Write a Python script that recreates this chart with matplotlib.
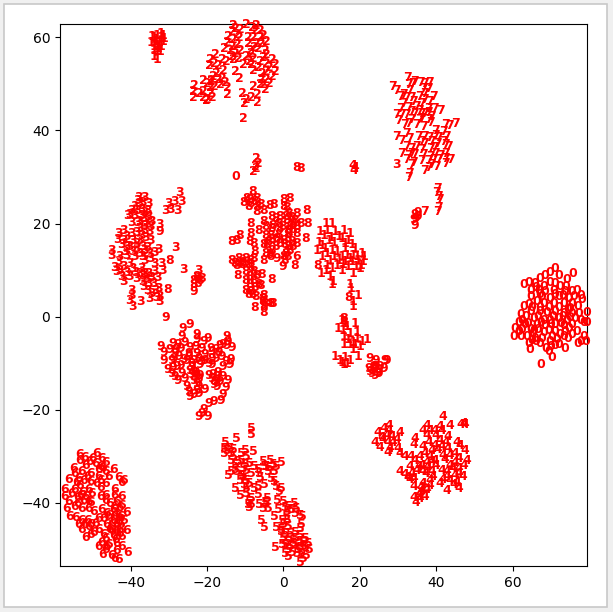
import matplotlib
matplotlib.use("Agg")
import matplotlib.pyplot as plt
from matplotlib.patches import Rectangle

# t-SNE positions, one list per digit label
digit_0 = [(71.1,10.4),(75.7,9.3),(72,8.9),(69.8,9.4),(68.5,8.9),(74.2,8),(67.2,8.2),(63,6.8),(64.1,7.3),(65.9,7.1),(69.8,7.3),(72.4,6.4),(76.8,5.7),(64.6,5.7),(66.7,5.7),(68.5,5.3),(70.7,5.7),(73.7,5.3),(75.5,5.3),(64.6,4.4),(67.6,4.3),(69.8,3.9),(72,4.3),(74.6,3.9),(77.7,4.6),(78.1,3.7),(66.3,3.2),(68,2.8),(70.7,2.8),(73.3,2.8),(75.5,2.8),(62.8,2.1),(64.1,2.5),(75,1.8),(64.6,1),(67.2,1),(68.9,0.8),(71.1,1),(73.3,0.7),(75.5,0.7),(77.2,0.7),(79.4,0.9),(62.1,0.5),(62.4,-0.9),(65.4,-0.4),(68,-0.8),(69.8,-0.8),(72,-0.4),(74.2,-0.8),(76.3,-0.4),(61.5,-1.3),(79.4,-1.3),(78.5,-1.3),(63.2,-1.8),(66.3,-1.8),(68.5,-2),(71.1,-1.8),(73.3,-2),(75.5,-1.8),(60.6,-2.5),(62.4,-2.9),(64.6,-2.9),(66.5,-2.8),(69.4,-3),(71.1,-3.3),(73.7,-3.3),(76.8,-3.3),(60.2,-4.2),(62.1,-4.3),(63.7,-4.3),(65.9,-4.7),(67.6,-4.7),(73.3,-4.3),(75.5,-3.8),(64.1,-5.8),(66.1,-5.4),(69.8,-5.4),(71.5,-5),(77.7,-5.4),(78.5,-4.3),(79.2,-5.4),(77,-5.8),(72,-6.1),(73.7,-6.9),(64.4,-7.1),(68.7,-6.9),(69.5,-7.6),(70.2,-8.9),(67.4,-10.4),(-12.4,30),
    (66,6.3),(68,6.5),(71,7.2),(74,6.5),(67,4.8),(71,4.7),(73,4.6),(76,4.2),(65,2),(67,2),(69.5,1.9),(72,2),(74.5,1.6),(77,2.2),(63.5,0),(66.5,0),(70.5,0),(73,-0.1),(75,-0.2),(77.8,-0.8),(64,-1.4),(67.3,-1.3),(70,-1.8),(72.5,-1.5),(74.8,-2.6),(61.5,-3.2),(65.2,-3.6),(68,-3.5),(70.3,-4.2),(72.4,-3.8),(74.5,-4.8),(65,-5.2),(67,-5.8),(71,-6.2),(70,-6.5),(65.5,-3)]
digit_1 = [(-34.5,60.3),(-33.8,60),(-33,60.4),(-32.2,60),(-31.5,60.4),(-34.6,59),(-33.6,59.2),(-32.6,59),(-31.6,59.2),(-34,58),(-33,58.2),(-32,58),(-34,57.2),(-33.2,57),(-32.4,57),(-33.8,56),(-33.2,55.2),(11.2,20),(12.6,20),(9.6,18.2),(11.3,18.6),(13.5,18.2),(15.7,18.6),(17.4,17.9),(9.2,16),(11.8,16.4),(13.1,16),(15.3,16.8),(17,16.4),(8.7,14.3),(10.9,14.6),(12.6,14.3),(14,13.9),(16.1,14.6),(18.8,14.6),(10,12.9),(12.2,12.1),(14.4,12.1),(16.6,13.2),(18.3,13.2),(20.5,13.6),(16.1,11.8),(17.9,11.8),(19.6,12.1),(20.9,11.8),(11.3,11),(12.6,10.3),(15.3,10),(18.3,9.3),(20.1,10.3),(9.9,9.3),(12.2,8.6),(12.8,6.8),(17.5,6.8),(19.6,4.6),(18.1,2.2),(13,7.5),(17.6,6),(18.1,3.2),(15.2,-0.8),(18.7,-1.5),(14.3,-2.5),(16.5,-2.2),(17.4,-3.6),(15.7,-4.3),(19.1,-4.7),(21.8,-5),(20.5,-5.4),(15.7,-6.1),(17.4,-6.1),(20,-6.5),(18.3,-7.2),(19.6,-8.6),(13.5,-8.6),(14.8,-9.4),(17.4,-9.4),(15.7,-10.4),(16.7,-10.1),
    (10.5,17.5),(12.5,17),(14.5,17.2),(16.2,15.6),(18,15.5),(10,15.2),(11.5,13.5),(13.3,13),(15.2,13),(17.3,12.5),(19.2,12.9),(21,12.8),(15.5,11.2),(17,10.7),(19,10.8),(20.3,11),(14,11),(11,9.8),(-33.4,59.6),(-32.9,57.6),(-32,60.9),(-31.2,59.8),(16,-1.5),(15.5,-3),(17,-5),(18.7,-6),(16,-8.9),(15.2,-9.8),(19.3,-3.5),(18.2,-5.5)]
digit_2 = [(-13.1,62.5),(-9.6,62.7),(-7,62.5),(-11.3,61.8),(-13.5,61.3),(-7.4,61.6),(-5.2,60.4),(-14.4,60.2),(-12.2,60.6),(-9.2,59.9),(-14.8,58.9),(-4.4,59.1),(-9.2,58.8),(-7,58.8),(-5.7,58.8),(-12.2,58.4),(-15.5,57.7),(-14,57.3),(-8.7,57.3),(-6.5,57.7),(-4.8,57.3),(-17.9,56.3),(-12.7,56.6),(-4.4,56.3),(-19.2,55.2),(-16.1,55.2),(-13.1,55.2),(-9.6,55.9),(-7.9,55.5),(-6.1,54.8),(-3,55.2),(-19.4,53.9),(-17,53.9),(-10.5,54.1),(-8.3,54.1),(-4.4,54.5),(-2.2,54.1),(-15.7,52.9),(-12.7,52.7),(-7.9,52.9),(-2.2,52.7),(-16.1,51.2),(-11.5,51.1),(-4.4,52.7),(-3,51.6),(-18.3,51.6),(-21,50.7),(-18.8,50.5),(-17,50.9),(-5.7,50.9),(-4.4,50.9),(-15.3,50.3),(-8,49.5),(-6.1,49.8),(-23.4,49.6),(-19.2,49.3),(-14.7,49.3),(-23.6,48.4),(-20.9,48.4),(-4.8,48.9),(-23.6,47.2),(-20.9,47.2),(-19.2,48),(-14.8,47.7),(-10.7,48),(-8.3,47),(-6.8,47.7),(-19.9,46.7),(-9.6,46.6),(-6.8,46),(-10.2,45.7),(-10.5,42.6),(-7,34),(-6.5,33),(-7.4,32.2),(-7.9,31.2),(-7,31.9),
    (-13,59.5),(-11.5,60),(-8,60),(-6,60),(-13.3,58),(-11.2,57.3),(-7.5,57.8),(-13.5,56),(-11.8,55.4),(-8.5,56.5),(-5.3,55.8),(-18,54.5),(-15,54.8),(-9,54.8),(-6.5,53.5),(-3.6,53.5),(-5.5,52.3),(-17.5,52.3),(-16.5,49.8),(-19.8,50.1),(-3.6,50.2),(-5.2,49.8),(-18,49.5),(-22,47.9),(-20.2,46.5),(-18.5,47),(-19,50.8),(-12.5,62),(-8.2,62.2),(-6,61.5)]
digit_3 = [(-38,25.6),(-36.5,25.6),(-27.1,26.6),(-37.6,24.3),(-38.9,23.6),(-35.4,24.3),(-30.2,24.3),(-28.4,24.7),(-26.7,24.7),(-39.8,22.9),(-37.2,23),(-35.7,22.9),(-31,22.9),(-29.7,23),(-27.8,22.9),(-40.9,21.8),(-38.9,21.8),(-37.2,21.8),(-35.4,21.5),(-39.8,20.2),(-37.6,20.4),(-35.9,20.4),(-34.5,20.4),(-32.5,19.7),(-37.6,19),(-36.3,18.6),(-35,18.2),(-42,18.6),(-39.8,17.9),(-43.3,17.9),(-37.2,17.5),(-43.5,16.6),(-42,16.4),(-39.4,16.4),(-37.6,16.4),(-34.7,16.3),(-42.4,15.4),(-40.2,15),(-38.5,14.6),(-36.3,14.3),(-32.8,14.4),(-28.2,14.8),(-45,14.3),(-45,13.2),(-41.5,13.9),(-39.4,13.9),(-37.6,13.6),(-35.2,13.6),(-33.7,13.7),(-41.1,13.2),(-36.3,12.1),(-43.3,11.8),(-40.2,11.4),(-33.7,11.4),(-31.9,11.4),(-44.2,10.6),(-42,10.7),(-39.4,10.3),(-37.2,10.3),(-26.3,10.2),(-31.7,10),(-43.7,9.6),(-37.6,9.3),(-35.4,9.3),(-33.7,9.6),(-42.4,8.6),(-40.2,8.6),(-38.5,8.2),(-35.9,8.2),(-42,7.5),(-34.1,7.1),(-36.7,6.4),(-32.8,6),(-39.8,5.7),(-34.6,5),(-35,3.9),(-39.8,4.6),(-32.4,4.4),(-40.2,3.4),(-37.4,3.2),(-39.4,2.2),(-32.5,3.2),(-22.3,9.8),(29.7,32.6),
    (-38.2,25),(-36.8,24.6),(-38.3,22.7),(-36.4,22.3),(-40.2,21.9),(-36.6,21),(-38.2,20.3),(-36.4,19.6),(-34.8,19.4),(-38.5,18),(-36,17),(-41,17.2),(-38.4,15.7),(-36.8,15),(-35.5,14.9),(-41,15),(-39,12.8),(-36.9,12.8),(-34.7,12.5),(-43,13),(-42.8,10),(-41,9.5),(-38.8,9.4),(-36.5,9.2),(-34.5,8.3),(-33,8.3),(-36.8,7.5),(-35.3,7),(-33.6,5.7),(-35.6,5.5),(-33.3,4),(-37,8.8)]
digit_4 = [(41.7,-21.4),(47.1,-22.9),(46.5,-23.2),(47.5,-23.2),(27.7,-23.4),(43.6,-23.4),(26.3,-24.1),(37.5,-23.4),(41,-23.6),(24.8,-25),(30.5,-25),(36.6,-24.5),(38.3,-24.5),(39.6,-24.5),(41.4,-24.6),(37.5,-25.5),(27,-25.5),(28.3,-25.9),(25.7,-26),(29.6,-26.5),(43.1,-25.9),(23.9,-27.2),(27.4,-27.2),(34.4,-26.2),(34.2,-27.5),(41,-26.6),(45.3,-27),(46.2,-27.7),(39.6,-27.7),(25.2,-28.2),(30,-28.4),(27.4,-29.3),(41.4,-28),(43.1,-28.4),(47.5,-28.8),(38.8,-28.8),(30.5,-29.5),(37,-29.5),(31.8,-30.2),(33.3,-30.2),(35.7,-30.2),(38.3,-30.2),(41.8,-29.8),(43.6,-29.8),(47.9,-30.9),(37.5,-31.3),(39.6,-30.9),(44.9,-31.3),(47.1,-32),(33.1,-32.2),(35.3,-32.3),(37.9,-32.3),(44.4,-32.7),(45.8,-32.7),(30.5,-33.4),(31.8,-33.9),(33.5,-33.8),(36.6,-33.4),(38.8,-33.4),(41.4,-33.1),(42.7,-33.4),(44.9,-34.1),(34,-34.9),(38.3,-35.2),(41.8,-35.1),(43.6,-35.2),(46.9,-34.5),(45.3,-35.6),(34,-36.5),(36.6,-35.9),(38.2,-36.3),(42.7,-37.4),(45.8,-37),(36.2,-37.4),(37,-38.8),(35.3,-38.4),(34.7,-39.9),(35.7,-39.2),(18.2,32.5),(18.7,32),(18.4,31.5),
    (26,-26.5),(27.5,-24.5),(28.5,-27),(27.8,-28.3),(36.5,-28),(38,-27),(40,-25.5),(40.3,-28.7),(42.4,-27),(42.2,-30.7),(44.8,-29.5),(46,-30.5),(34.5,-31),(36.3,-32),(38.7,-31.2),(40,-32),(33,-35),(35,-33.2),(37.2,-33.8),(43.5,-32),(46,-33.8),(42.8,-34.5),(44.5,-36.2),(41,-36),(36,-36.7),(37.5,-37.3),(35.6,-38.1),(34.2,-39),(32.5,-34.7),(39,-34.3)]
digit_5 = [(-8.4,-24),(-8.4,-25.3),(-12.3,-26.3),(-15.2,-27),(-15.6,-28.3),(-14,-28.3),(-15.4,-29.4),(-13.6,-29.4),(-10.1,-28.8),(-7.9,-29.1),(-11,-29.4),(-9.7,-30.1),(-13.6,-30.9),(-11.9,-31.2),(-8.8,-31.6),(-5.3,-31.2),(-3.4,-30.9),(-0.5,-31.4),(-12.7,-31.9),(-10.6,-32.6),(-6.6,-32.9),(-4.4,-32.3),(-1.8,-32.3),(-2.3,-33.4),(-13.6,-33.4),(-14.5,-34.1),(-11,-34.1),(-8.4,-33.7),(-6.2,-33.7),(-4,-33.4),(-9.7,-35.2),(-11.4,-35.2),(-3.1,-34.8),(-2.3,-35.5),(-6.6,-36.6),(-4.9,-36.2),(-12.7,-37),(-9.7,-37),(-7.5,-37),(-1.8,-36.6),(-0.5,-37),(-11.4,-38.4),(-9.7,-38),(-6.6,-38.2),(-1.2,-37.7),(-8.4,-39.1),(-4.2,-39.1),(-1.6,-39.6),(-9.2,-40.5),(-8.8,-39.8),(-6.4,-40.5),(-4.4,-40.2),(-5.3,-41.3),(-4,-41.3),(-0.1,-39.8),(2.8,-40.2),(1.2,-40.9),(-1.4,-41.6),(1,-42),(3,-42.3),(4.3,-42.7),(5,-42.9),(-2.3,-43),(-5.7,-43.9),(-4.9,-45.4),(1,-43.8),(-1.8,-45.3),(-0.1,-44.8),(1.2,-45.2),(4.3,-45.6),(-0.5,-46.3),(1.7,-46.6),(4.3,-47),(-0.1,-47.7),(3,-47.7),(5.6,-47.7),(1.2,-48.4),(4.3,-48.4),(6.5,-48.8),(-2,-49.7),(0.4,-49.1),(3,-49.1),(5.2,-49.5),(6.9,-50.2),(1.2,-50.2),(3.9,-50.2),(1.2,-51.6),(6,-51.3),(5.2,-52),(4.5,-52.9),(0.4,-50.9),
    (-14.8,-28.9),(-13.2,-28.5),(-13,-30.2),(-11,-31),(-10,-31.8),(-12.7,-33),(-9.8,-33.1),(-5,-32.3),(-2.7,-31.8),(-3.8,-32.5),(-7.5,-32.2),(-6,-34.6),(-10.4,-34.2),(-12,-33.4),(-8.9,-35.9),(-10.3,-36.2),(-8.5,-40.4),(-4.8,-39.9),(-9,-41),(0.5,-41),(2,-41.5),(3.5,-41.2),(-0.6,-45.9),(1.5,-47.7),(0.5,-46.6),(3,-46.4),(2.7,-48.9),(5.1,-48.6),(5.8,-49.6),(1.8,-49.4),(4.4,-49.7),(3.6,-51),(-0.2,-49),(0.8,-43.1),(-0.2,-43.9),(4.8,-50.9),(4.8,-44.7),(2.2,-50.7)]
digit_6 = [(-53.4,-29.6),(-48.9,-29.4),(-52.1,-30.3),(-47.6,-30.5),(-53.4,-30.9),(-50.8,-31.2),(-49.3,-31.6),(-46.7,-31.4),(-51.9,-32.1),(-48,-32.3),(-55,-32.6),(-44.5,-32.9),(-52.8,-33.4),(-50.6,-33.7),(-46.7,-33.4),(-54.6,-33.7),(-56.3,-35),(-53.7,-34.8),(-48.4,-34.4),(-45.8,-34.4),(-43.2,-34.6),(-41.9,-35.2),(-54.1,-35.7),(-52.4,-35.3),(-50.6,-35.5),(-48.9,-35.9),(-46.7,-35.9),(-42.3,-35.7),(-48,-36.7),(-57.2,-37.3),(-54.6,-37.2),(-51.1,-37.3),(-44.1,-37.3),(-57.2,-38.7),(-55.4,-38),(-53.2,-38.4),(-50.2,-38),(-48,-38.7),(-44.1,-38.4),(-42.3,-38.7),(-56.3,-39.8),(-52.4,-39.5),(-51.1,-39.8),(-46.7,-39.6),(-45.4,-40.2),(-43.6,-39.8),(-42.3,-40.7),(-56.7,-41.2),(-54.8,-40.9),(-52.8,-41.2),(-51.1,-41.2),(-49.8,-42),(-47.6,-41.6),(-44.5,-41.6),(-41,-42.2),(-55.9,-42.9),(-46.3,-42.3),(-43.2,-42.7),(-54.3,-43.2),(-52.8,-43.8),(-51.3,-43.9),(-47.1,-43.4),(-44.5,-43.8),(-41.9,-43.8),(-53.7,-44.8),(-49.3,-44.6),(-46.3,-44.8),(-43.6,-44.8),(-52.8,-45.9),(-51.1,-45.2),(-48.4,-45.9),(-45.4,-45.8),(-41,-46.1),(-42.8,-45.9),(-51.9,-47.5),(-50.6,-46.8),(-47.1,-46.8),(-44.5,-47),(-42.3,-47.3),(-47.6,-48.6),(-48.4,-49.5),(-45.8,-49.1),(-43.6,-48.8),(-42.3,-49.5),(-46.7,-50.2),(-43.8,-50.4),(-47.3,-51.1),(-45,-51.3),(-44.1,-52),(-43.2,-52.2),(-40.8,-50.7),(3.5,12.9),
    (-50,-30.5),(-48.5,-33),(-47.3,-32.5),(-51.3,-34.5),(-53.3,-36.3),(-47.8,-35.2),(-52.5,-37.8),(-54,-39),(-51.7,-38.7),(-50.4,-40),(-53.8,-40.2),(-46.5,-38.5),(-44.2,-40.8),(-43,-41.1),(-45.7,-42.7),(-44.2,-42.8),(-42.6,-43.1),(-43.3,-44),(-44.9,-44.7),(-45,-46),(-43.7,-46),(-42.7,-44.7),(-44,-47.9),(-46.5,-47.8),(-48.3,-43.5),(-50.6,-44.8),(-52,-44.8),(-49.8,-46.5),(-43,-46.7),(-46.3,-49.5)]
digit_7 = [(32.5,51.5),(34.4,50.5),(35.9,50.3),(38.1,50.3),(28.6,49.5),(32.7,49.8),(36.6,49.1),(37.9,49.1),(29.6,48.6),(33.1,48.7),(37,48),(30.5,47.3),(32.2,47.2),(39.2,47.3),(37,46.7),(31.4,45.9),(34,46.2),(36.2,45.9),(30.5,44.8),(34.9,45.2),(37.9,44.8),(39.5,44.8),(41,44.3),(29.6,43.4),(32.2,43.4),(34.4,43.7),(37,43.7),(38.8,43),(30,42.1),(33.5,42.3),(35.7,42.4),(37.9,42.3),(31.8,41.2),(34.9,41.2),(44.9,41.4),(42.3,41.2),(43.4,41),(36.6,40.9),(32.2,39.4),(41.8,39.8),(39.9,40),(29.6,38.7),(35.3,38.7),(37,38.7),(39.7,39),(30.9,37.8),(33.1,38.3),(37,37.3),(38.8,37.6),(41.8,37.6),(32.2,36.6),(34.9,36.6),(38.4,36.2),(43.1,36.5),(30.9,35.1),(33.5,35.1),(36.6,34.8),(39.7,35.1),(42.3,35.1),(32.2,33.8),(34.4,34.8),(43.6,33.8),(37.9,33.5),(40.5,33.7),(42.3,33),(33.5,32.6),(38.8,32.6),(37,31.5),(40.1,32.3),(33.1,30.8),(32.7,29.9),(40.3,27.6),(40.1,26.7),(40.5,25.8),(40.8,25.2),(36.8,22.5),(40.7,23.5),(40.4,22.5),
    (33.8,50),(36.8,50),(31.5,47.8),(33.6,47.2),(35.7,47.4),(38.3,46.2),(32.6,45),(35.6,44.4),(31,43.4),(33.4,44),(36,43.6),(38,43.9),(36,42.6),(32.8,41.6),(38.6,41.7),(40.5,38.6),(38.3,38.5),(42.6,38.8),(36,37.7),(40.2,37.1),(33.5,36.2),(36,35.9),(39.5,36.3),(42.5,36.9),(32.6,34.7),(38.5,34.5),(41,34.6),(39.2,33.8),(42.5,34),(34,33.2),(36.2,33.6),(37.9,32)]
digit_8 = [(-8,26.8),(-9.6,25.4),(-7,25.4),(-10.5,24.5),(-8.7,24.3),(-9.2,23.6),(-6.1,24),(0,25.2),(1.5,25.4),(0,23.6),(0.9,23.5),(-7,22.5),(-5.3,22.8),(-3.7,23.8),(-2.5,24),(6.1,22.9),(-3.1,21.5),(-1,21.5),(1.3,22.2),(3.3,22.2),(-8.7,20),(-5.3,20.4),(-1.3,20),(0.9,20.7),(3,20.7),(4.4,19.9),(6.3,19.9),(-4.8,19.3),(-6.6,18.6),(-3.1,18.9),(-0.9,18.9),(1.7,19.3),(3.3,19.3),(-8.7,17.9),(-4.8,17.5),(1.3,17.9),(3.3,17.9),(-11.5,17.5),(-12.2,16.4),(-3.9,16.1),(-1.8,16.8),(0,16.4),(5.9,16.7),(-13.5,16.1),(-8.9,16.1),(-7.9,15.6),(2.2,16.1),(3.5,15.6),(-4.4,15.4),(-2.2,15),(0.4,15.4),(-3.1,14.3),(1.7,14.3),(-7.6,13.9),(-4.8,13.6),(0,13),(-3.3,12.9),(-13.5,12),(-11.8,12.5),(-10,12.5),(-7.9,12.5),(-5.3,12),(-12.2,10.9),(-10.9,11.1),(-9.2,11.1),(3,11),(0.4,12.1),(-9.8,9.6),(-7.9,9.6),(-5.7,9.1),(-12.1,8.9),(-3.1,8),(-10,7.8),(-7.9,7.8),(-6.6,6.8),(-10,5.7),(-8.7,5.3),(-7.4,4.3),(-5.3,4.6),(-5.4,3.2),(-3.5,2.7),(-2.8,2.7),(-7.6,1.9),(-5.3,2.1),(-5.1,0.8),(3.5,32),(4.4,31.8),(9,11),(17,4),(15.7,-0.4),(15.8,-1.1),(-29.9,12),(-30.4,5.8),(-22.8,8.6),(-23.6,7.8),(-21.9,7.7),(-23.5,6.8),(-22.6,7.1),(-21.4,8.2),
    (-8.8,25.2),(-7.5,24.8),(-6.9,23.6),(-2,21),(0.5,21.6),(2.2,21.3),(-2.8,19.5),(-0.3,19.4),(2.4,20),(1,18.6),(-3.5,17.5),(-1.2,17.7),(2.4,18.7),(-3,16.5),(1,16.8),(-5.2,15.5),(-1,15.6),(1,15),(2.5,15),(-3.6,13.4),(-10.6,11.7),(-8.7,12),(-12.8,11.4),(-9,8.7),(-7,8.8),(-8.9,6.8),(-7.5,6.2),(-9.2,4.8),(-8,4.8),(-5.5,3.9),(-5,2.7),(-6,6.7),(-8.5,10.5),(-11.5,11.4),(0.6,13.6),(1,12.8)]
digit_9 = [(-30.8,-0.2),(-26.3,-2.5),(-24.5,-1.8),(-26.7,-4.2),(-22.6,-3.8),(-25.8,-5.6),(-14.9,-4.3),(-14.5,-5.4),(-13.6,-6.6),(-22.8,-5),(-21,-5.4),(-19.9,-4.7),(-32.2,-6.5),(-28.9,-5.8),(-27.6,-6.1),(-26.9,-6.8),(-24.5,-6.6),(-21.4,-6.8),(-16.6,-6.3),(-15.8,-6.1),(-29.9,-7.2),(-31.3,-7.8),(-28.4,-7.9),(-24.9,-7.9),(-22.8,-7.9),(-18.8,-7.6),(-17.7,-7.2),(-31.3,-9.4),(-29.3,-9.4),(-25.4,-9.4),(-23.6,-9.4),(-20.6,-9.4),(-18.8,-9),(-16.2,-8.6),(-13.9,-9.2),(-15.1,-9.7),(-15.8,-10.8),(-14.2,-10.4),(-28,-10.8),(-24.1,-10.8),(-21.9,-10.4),(-18.8,-10.4),(-30.2,-11.5),(-24.5,-11.6),(-29.3,-12.2),(-26.7,-12.2),(-22.8,-12.6),(-21.9,-12.6),(-19.7,-12.6),(-17.1,-12.1),(-28.4,-12.9),(-25.8,-13.3),(-27.6,-13.8),(-23.6,-13.7),(-18.8,-13.3),(-17.5,-13.7),(-15.8,-12.8),(-14.7,-13.8),(-18,-14),(-22.3,-15.1),(-25.4,-15.1),(-17.5,-15),(-15.2,-15.2),(-20.6,-15.8),(-22.3,-16.5),(-24.9,-16.2),(-24.5,-17.2),(-15.8,-16.7),(-16.4,-18),(-18.4,-18.3),(-19.7,-18.8),(-21,-20.1),(-22.3,-21.4),(-19.9,-21.5),(-21.5,-20.8),(22.6,-9),(24.2,-9.4),(27,-9.4),(22.2,-11.1),(23.5,-10.8),(24.8,-11.5),(26.1,-11.1),(24,-12.6),(23.5,-11.5),(26.6,-9.5),(22.6,-11.9),(34.4,22),(35,21.5),(34.5,21),(35.2,22.3),(34.2,20.8),(34.4,19.5),(-1.8,12.5),(-0.3,10.7),(-23.6,5.3),(-32.5,18.2),
    (-28.3,-7),(-27.4,-8.5),(-24.8,-8.6),(-24,-10),(-22.3,-9),(-21.5,-9.6),(-19.6,-10),(-20.5,-8.2),(-17.8,-9),(-16.9,-7.8),(-14.8,-6.2),(-27,-10.5),(-29,-11),(-23.4,-11.8),(-23,-12),(-23.2,-13),(-22.3,-13.6),(-18.5,-12.5),(-17.5,-12.9),(-18.2,-14.7),(-16.7,-14),(-24,-12.5),(-22.6,-14.4),(-22.8,-16),(-23.5,-16.8),(-28.7,-9),(-26,-9.2),(-19,-6.8),(-23,-6.5),(23.8,-11.2),(24.6,-12),(24.2,-10.7),(25.2,-10.8),(25,-12.2),(23,-12.2)]

digits = [digit_0, digit_1, digit_2, digit_3, digit_4, digit_5, digit_6, digit_7, digit_8, digit_9]

fig = plt.figure(figsize=(6.13, 6.12), dpi=100, facecolor="#f0f0f0")
fig.add_artist(Rectangle((4 / 613, 5 / 612), 603 / 613, 603 / 612, transform=fig.transFigure,
                         facecolor="white", edgecolor="#c8c8c8", linewidth=1.2, zorder=-1))
ax = fig.add_axes([60 / 613, 46 / 612, 527 / 613, 542 / 612])

for label, points in enumerate(digits):
    for x, y in points:
        ax.text(x, y, str(label), color="red", fontdict={"weight": "bold", "size": 9},
                ha="center", va="center")

ax.set_xlim(-58.5, 79.45)
ax.set_ylim(-53.65, 62.9)
ax.set_xticks([-40, -20, 0, 20, 40, 60])
ax.set_yticks([-40, -20, 0, 20, 40, 60])

fig.savefig("out.png", dpi=100, facecolor=fig.get_facecolor())
